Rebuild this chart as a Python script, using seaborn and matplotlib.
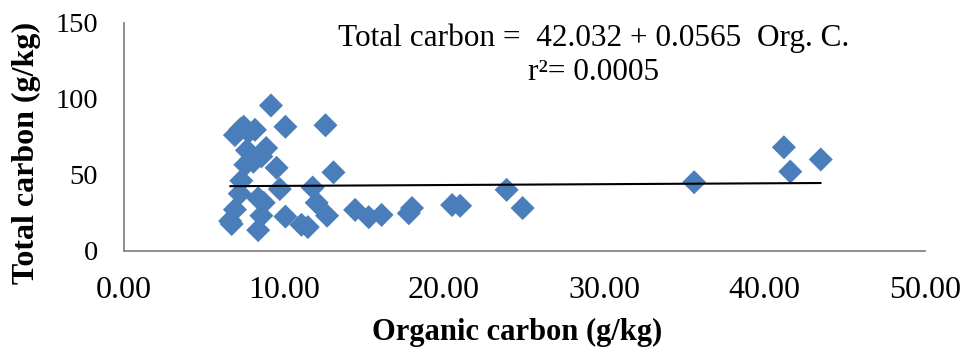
import matplotlib
matplotlib.use("Agg")
import matplotlib.pyplot as plt
import numpy as np
import pandas as pd
import seaborn as sns

# Organic carbon vs total carbon (g/kg) for each soil sample
organic_c = [9.2, 10.1, 12.6, 7.5, 8.2, 6.95, 7.7, 8.9, 8.6, 7.6, 8.1, 9.55,
             13.1, 7.35, 9.75, 11.8, 7.25, 8.4, 8.75, 12.05, 6.95, 14.45, 8.6,
             10.1, 12.7, 15.3, 6.65, 11.1, 11.5, 8.4, 16.1, 17.8, 18.0, 20.5,
             21.0, 23.9, 24.9, 35.6, 41.2, 41.6, 43.5, 7.3, 6.75, 7.8, 8.0]
total_c = [95.5, 81.5, 82.5, 81.5, 79.5, 76.0, 66.0, 67.5, 62.0, 56.5, 58.5,
           54.5, 51.5, 46.0, 40.5, 41.5, 37.5, 34.5, 31.5, 31.5, 27.0, 26.8,
           23.0, 22.4, 23.0, 22.0, 19.5, 17.0, 15.5, 13.5, 23.5, 24.6, 28.0,
           30.0, 29.5, 40.0, 28.0, 45.0, 68.0, 52.0, 60.0, 80.0, 17.5, 78.0, 60.5]

intercept = 42.032
slope = 0.0565
r_squared = "0.0005"

x_ticks = [0, 10, 20, 30, 40, 50]
y_ticks = [0, 50, 100, 150]

sns.set_theme(style="white")
plt.rcParams["font.family"] = ["Liberation Serif", "DejaVu Serif"]
plt.rcParams["text.color"] = "black"
plt.rcParams["axes.labelcolor"] = "black"

df = pd.DataFrame({"oc": organic_c, "tc": total_c})

fig = plt.figure(figsize=(9.65, 3.54), dpi=100)
ax = fig.add_axes([0.128, 0.292, 0.8305, 0.644])

sns.scatterplot(data=df, x="oc", y="tc", marker="D", s=150, color="#4A7EBB",
                edgecolor="none", linewidth=0, ax=ax, zorder=2)

xl = np.array([min(organic_c), max(organic_c)])
ax.plot(xl, intercept + slope * xl, color="black", lw=1.5, zorder=3)

ax.set_xlim(0, 50)
ax.set_ylim(0, 150)
ax.set_xticks(x_ticks)
ax.set_xticklabels([f"{v:.2f}" for v in x_ticks])
ax.set_yticks(y_ticks)
ax.set_yticklabels([str(v) for v in y_ticks])

for side in ("top", "right"):
    ax.spines[side].set_visible(False)
for side in ("left", "bottom"):
    ax.spines[side].set_color("#868686")
    ax.spines[side].set_linewidth(1.3)

ax.tick_params(axis="both", direction="out", length=6.5, width=1.2,
               color="#868686", labelcolor="black")
ax.tick_params(axis="x", labelsize=23, pad=12)
ax.tick_params(axis="y", labelsize=20.5, pad=12)

ax.set_xlabel("Organic carbon (g/kg)", fontsize=22, fontweight="bold")
ax.set_ylabel("Total carbon (g/kg)", fontsize=23, fontweight="bold")
ax.xaxis.set_label_coords(0.491, -0.295)
ax.yaxis.set_label_coords(-0.103, 0.427)

ax.text(0.587, 0.93, f"Total carbon =  {intercept:.3f} + {slope}  Org. C.",
        transform=ax.transAxes, ha="center", va="center", fontsize=22.5)
ax.text(0.587, 0.78, f"r\u00b2= {r_squared}", transform=ax.transAxes,
        ha="center", va="center", fontsize=22.5)

fig.savefig("out.png", dpi=100)
